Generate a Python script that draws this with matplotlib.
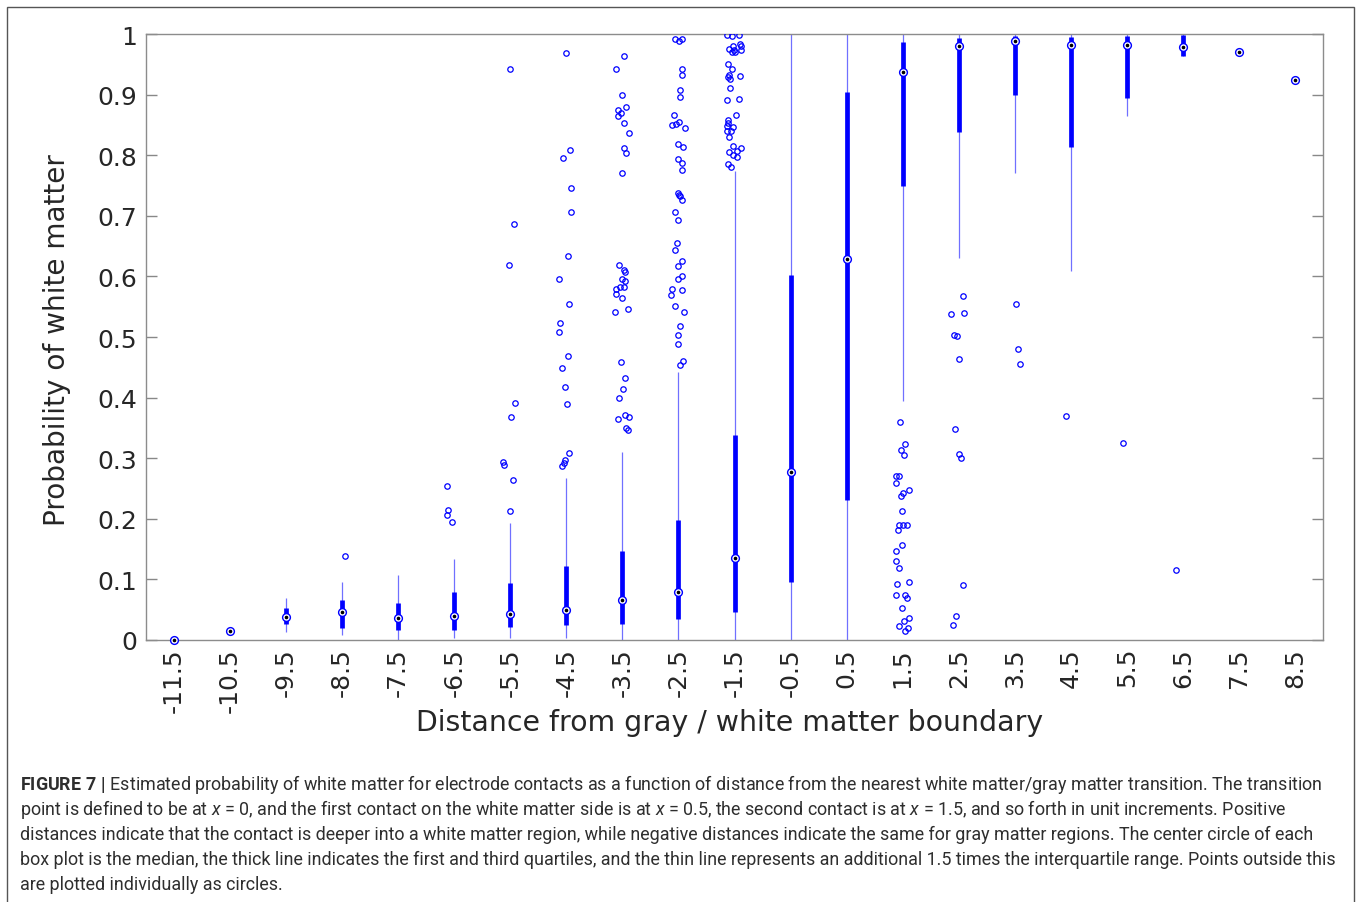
import numpy as np
import matplotlib
matplotlib.use("Agg")
import matplotlib.pyplot as plt
from matplotlib.patches import Rectangle

# distance bins (x) and box statistics
distance = [-11.5, -10.5, -9.5, -8.5, -7.5, -6.5, -5.5, -4.5, -3.5, -2.5, -1.5,
            -0.5, 0.5, 1.5, 2.5, 3.5, 4.5, 5.5, 6.5, 7.5, 8.5]
median = [0.000, 0.015, 0.038, 0.047, 0.036, 0.040, 0.043, 0.050, 0.066, 0.079, 0.135,
          0.277, 0.629, 0.937, 0.980, 0.989, 0.982, 0.982, 0.979, 0.971, 0.924]
q1 = [np.nan, np.nan, 0.026, 0.020, 0.017, 0.016, 0.021, 0.024, 0.026, 0.034, 0.047,
      0.096, 0.231, 0.749, 0.839, 0.899, 0.814, 0.894, 0.964, np.nan, np.nan]
q3 = [np.nan, np.nan, 0.053, 0.066, 0.061, 0.080, 0.094, 0.122, 0.147, 0.198, 0.338,
      0.602, 0.905, 0.987, 0.993, 0.996, 0.995, 0.996, 0.998, np.nan, np.nan]
whisk_lo = [np.nan, np.nan, 0.014, 0.009, 0.000, 0.003, 0.004, 0.003, 0.000, 0.000, 0.000,
            0.000, 0.000, 0.394, 0.631, 0.771, 0.609, 0.864, 0.964, np.nan, np.nan]
whisk_hi = [np.nan, np.nan, 0.069, 0.095, 0.107, 0.134, 0.193, 0.267, 0.310, 0.442, 0.774,
            1.000, 1.000, 1.000, 1.000, 1.000, 1.000, 1.000, 1.000, np.nan, np.nan]

# outliers (value, horizontal jitter as seen in the figure)
out_vals = {
    -8.5: [0.138],
    -6.5: [0.254, 0.215, 0.206, 0.194],
    -5.5: [0.942, 0.687, 0.618, 0.391, 0.368, 0.293, 0.288, 0.264, 0.213],
    -4.5: [0.969, 0.809, 0.796, 0.746, 0.707, 0.634, 0.595, 0.555, 0.523, 0.508,
           0.468, 0.449, 0.417, 0.389, 0.309, 0.297, 0.292, 0.287],
    -3.5: [0.964, 0.943, 0.899, 0.879, 0.875, 0.869, 0.864, 0.853, 0.837, 0.812, 0.804,
           0.771, 0.619, 0.611, 0.607, 0.596, 0.592, 0.583, 0.582, 0.579, 0.571, 0.565,
           0.547, 0.542, 0.458, 0.432, 0.414, 0.400, 0.372, 0.368, 0.365, 0.350, 0.347],
    -2.5: [0.991, 0.989, 0.991, 0.942, 0.933, 0.908, 0.896, 0.867, 0.850, 0.852, 0.855,
           0.845, 0.818, 0.814, 0.793, 0.787, 0.775, 0.738, 0.735, 0.733, 0.726, 0.706,
           0.693, 0.655, 0.644, 0.626, 0.617, 0.601, 0.595, 0.579, 0.577, 0.569, 0.551,
           0.542, 0.518, 0.503, 0.488, 0.460, 0.454],
    -1.5: [0.999, 0.997, 0.998, 0.980, 0.984, 0.980, 0.975, 0.971, 0.970, 0.973, 0.974,
           0.951, 0.942, 0.933, 0.929, 0.926, 0.931, 0.911, 0.891, 0.892, 0.867, 0.858,
           0.853, 0.849, 0.847, 0.840, 0.840, 0.830, 0.816, 0.812, 0.806, 0.807, 0.800,
           0.797, 0.785, 0.781],
    1.5: [0.360, 0.323, 0.314, 0.306, 0.270, 0.270, 0.259, 0.248, 0.242, 0.238, 0.213,
          0.190, 0.190, 0.189, 0.182, 0.156, 0.147, 0.131, 0.119, 0.093, 0.095, 0.074,
          0.074, 0.069, 0.053, 0.037, 0.031, 0.023, 0.020, 0.015],
    2.5: [0.567, 0.540, 0.538, 0.503, 0.502, 0.464, 0.348, 0.307, 0.301, 0.090, 0.040, 0.025],
    3.5: [0.554, 0.480, 0.455],
    4.5: [0.369],
    5.5: [0.325],
    6.5: [0.116],
}
out_jit = {
    -8.5: [0.05],
    -6.5: [-0.13, -0.12, -0.13, -0.04],
    -5.5: [0.00, 0.06, -0.03, 0.09, 0.02, -0.13, -0.11, 0.05, 0.00],
    -4.5: [0.00, 0.07, -0.06, 0.09, 0.09, 0.03, -0.13, 0.05, -0.12, -0.13,
           0.03, -0.07, -0.02, 0.01, 0.05, -0.02, -0.04, -0.07],
    -3.5: [0.03, -0.11, 0.00, 0.06, -0.07, -0.02, -0.07, 0.03, 0.11, 0.03, 0.06,
           0.00, -0.06, 0.02, 0.04, 0.00, 0.05, -0.05, 0.03, -0.12, -0.11, -0.01,
           0.10, -0.13, -0.02, 0.05, 0.01, -0.06, 0.05, 0.12, -0.07, 0.06, 0.10],
    -2.5: [-0.06, 0.01, 0.07, 0.06, 0.06, 0.03, 0.03, -0.08, -0.12, -0.04, 0.01,
           0.11, -0.01, 0.09, -0.01, 0.07, 0.07, -0.01, 0.01, 0.03, 0.06, -0.07,
           -0.01, -0.03, -0.06, 0.07, 0.00, 0.07, 0.00, -0.11, 0.06, -0.13, -0.06,
           0.10, 0.03, -0.01, -0.01, 0.09, 0.03],
    -1.5: [-0.13, -0.05, 0.08, -0.02, 0.10, 0.11, -0.09, -0.04, 0.01, 0.11, -0.01,
           -0.11, -0.04, -0.09, -0.11, -0.08, 0.10, -0.08, -0.13, 0.08, 0.03, -0.12,
           -0.12, -0.13, -0.02, -0.07, -0.14, -0.09, -0.02, 0.11, -0.10, 0.04, -0.02,
           0.04, -0.12, -0.06],
    1.5: [-0.04, 0.05, -0.03, 0.03, -0.12, -0.06, -0.11, 0.11, 0.01, -0.03, -0.01,
          -0.06, 0.01, 0.07, -0.08, -0.01, -0.12, -0.11, -0.07, -0.10, 0.12, -0.12,
          0.04, 0.07, -0.01, 0.12, 0.02, -0.06, 0.09, 0.05],
    2.5: [0.08, 0.10, -0.13, -0.09, -0.03, 0.01, -0.06, 0.01, 0.05, 0.08, -0.04, -0.10],
    3.5: [0.02, 0.06, 0.09],
    4.5: [-0.08],
    5.5: [-0.06],
    6.5: [-0.12],
}
tick_labels = [f"{d:g}" for d in distance]

caption_lines = [
    r"$\mathbf{FIGURE\ 7\ |}$ Estimated probability of white matter for electrode contacts as a function of distance from the nearest white matter/gray matter transition. The transition",
    r"point is defined to be at $x$ = 0, and the first contact on the white matter side is at $x$ = 0.5, the second contact is at $x$ = 1.5, and so forth in unit increments. Positive",
    "distances indicate that the contact is deeper into a white matter region, while negative distances indicate the same for gray matter regions. The center circle of each",
    "box plot is the median, the thick line indicates the first and third quartiles, and the thin line represents an additional 1.5 times the interquartile range. Points outside this",
    "are plotted individually as circles.",
]

plt.rcParams["font.family"] = "DejaVu Sans"
plt.rcParams["mathtext.fontset"] = "custom"
plt.rcParams["mathtext.rm"] = "Roboto"
plt.rcParams["mathtext.it"] = "Roboto:italic"
plt.rcParams["mathtext.bf"] = "Roboto:bold"

W, H = 1358, 903
fig = plt.figure(figsize=(W / 100, H / 100), dpi=100)
ax = fig.add_axes([146 / W, 1 - 641 / H, (1323 - 146) / W, (641 - 35) / H])

blue = "#0000ff"
light = "#7070ff"

# whiskers, boxes, medians
ax.vlines(distance, whisk_lo, whisk_hi, color=light, lw=0.9, zorder=2)
ax.vlines(distance, q1, q3, color=blue, lw=3.4, zorder=3)
ax.plot(distance, median, ls="none", marker="o", ms=5.6, mfc="white", mec=blue, mew=1.0,
        zorder=4, clip_on=False)
ax.plot(distance, median, ls="none", marker="o", ms=1.6, mfc="black", mec="black",
        zorder=5, clip_on=False)

# outliers
for d in out_vals:
    xs = [d + j for j in out_jit[d]]
    ax.plot(xs, out_vals[d], ls="none", marker="o", ms=3.9, mfc="none", mec=blue, mew=0.9, zorder=4)

ax.set_xlim(-12, 9)
ax.set_ylim(0, 1)
ax.set_xticks(distance)
ax.set_xticklabels(tick_labels, rotation=90)
ax.set_yticks(np.arange(0, 1.01, 0.1))
ax.set_yticklabels(["0"] + [f"{v:.1f}" for v in np.arange(0.1, 0.95, 0.1)] + ["1"])
ax.tick_params(axis="x", length=0, pad=5, labelsize=18, labelcolor="#262626")
ax.tick_params(axis="y", direction="in", length=8, width=1, color="#888888",
               left=True, right=True, pad=6.5, labelsize=18, labelcolor="#262626")
for s in ax.spines.values():
    s.set_color("#8c8c8c")
    s.set_linewidth(1)

ax.set_xlabel("Distance from gray / white matter boundary", fontsize=20.4, color="#262626")
ax.set_ylabel("Probability of white matter", fontsize=20.2, color="#262626")
ax.xaxis.set_label_coords(0.496, -0.112)
ax.yaxis.set_label_coords(-0.064, 0.497)

# caption, sized so the widest line fits inside the frame like in the figure
caps = []
for i, line in enumerate(caption_lines):
    caps.append(fig.text(20 / W, 1 - (785 + 25 * i) / H, line, fontsize=12, family="Roboto",
                         color="#2e2e2e", va="center", ha="left"))
fig.canvas.draw()
w0 = max(t.get_window_extent().width for t in caps)
size = 12 * (1312 / w0)
for t in caps:
    t.set_fontsize(size)

# outer frame
fig.patches.append(Rectangle((7 / W, -0.01), (1354 - 7) / W, 1 - 8 / H + 0.01,
                             transform=fig.transFigure, fill=False, ec="#555555", lw=1))

fig.savefig("out.png", dpi=100)
